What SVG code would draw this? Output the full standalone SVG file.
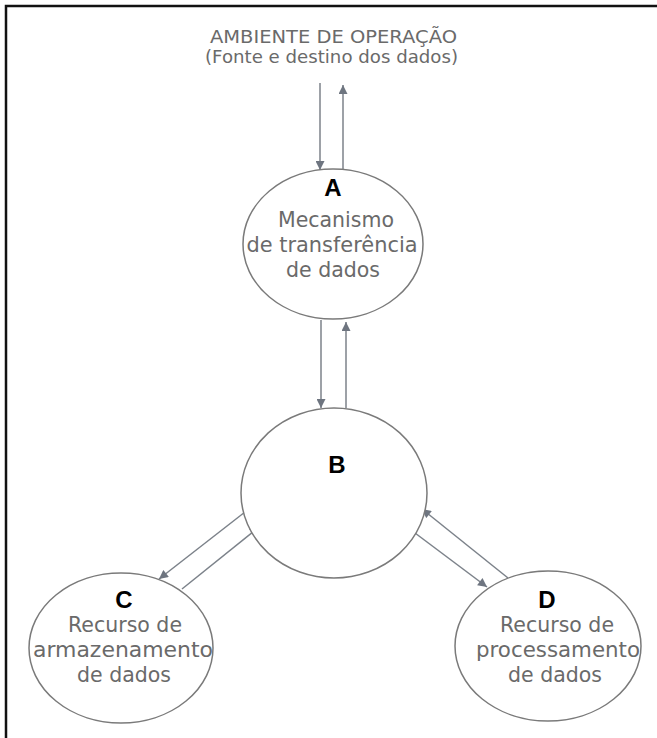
<svg xmlns="http://www.w3.org/2000/svg" width="657" height="738" viewBox="0 0 657 738">
<defs>
<marker id="ah" viewBox="0 0 10 10" refX="10" refY="5" markerWidth="10" markerHeight="9" markerUnits="userSpaceOnUse" orient="auto">
<path d="M0,0 L10,5 L0,10 z" fill="#6e7580"/>
</marker>
<style>
.node{fill:#fff;stroke:#7a7a7a;stroke-width:1.5}
.lbl{font-family:"DejaVu Sans",sans-serif;font-size:20.5px;fill:#6a6a6a;text-anchor:middle}
.ttl{font-family:"DejaVu Sans",sans-serif;font-size:18px;fill:#6a6a6a}
.key{font-family:"Liberation Sans",Arial,sans-serif;font-weight:bold;font-size:24px;fill:#000;text-anchor:middle}
.conn line{stroke:#7c828a;stroke-width:1.5;marker-end:url(#ah)}
</style>
</defs>
<rect width="657" height="738" fill="#fff"/>
<path d="M6,738 L6,6 L657,6" fill="none" stroke="#111" stroke-width="2.5"/>
<g id="ambiente">
<text class="ttl" x="210" y="43" textLength="247" lengthAdjust="spacingAndGlyphs">AMBIENTE DE OPERAÇÃO</text>
<text class="ttl" x="205" y="63" textLength="253" lengthAdjust="spacingAndGlyphs">(Fonte e destino dos dados)</text>
</g>
<g id="connectors" class="conn">
<line x1="320" y1="83" x2="320" y2="170"/>
<line x1="343" y1="170" x2="343" y2="85"/>
<line x1="321" y1="320" x2="321" y2="408"/>
<line x1="346" y1="408" x2="346" y2="322"/>
<line x1="245" y1="512" x2="159" y2="579"/>
<line x1="182" y1="589" x2="259" y2="527"/>
<line x1="508" y1="578" x2="422" y2="509"/>
<line x1="407" y1="527" x2="487" y2="587"/>
</g>
<g id="node-A">
<ellipse class="node" cx="333" cy="244" rx="90" ry="75"/>
<text class="key" x="333" y="196">A</text>
<text class="lbl" x="336" y="227">Mecanismo</text>
<text class="lbl" x="332" y="252" textLength="171" lengthAdjust="spacingAndGlyphs">de transferência</text>
<text class="lbl" x="333" y="277">de dados</text>
</g>
<g id="node-B">
<ellipse class="node" cx="334" cy="493" rx="93" ry="85"/>
<text class="key" x="337" y="473">B</text>
</g>
<g id="node-C">
<ellipse class="node" cx="121" cy="648" rx="92" ry="75"/>
<text class="key" x="124" y="608">C</text>
<text class="lbl" x="125" y="632">Recurso de</text>
<text class="lbl" x="123" y="657" textLength="180" lengthAdjust="spacingAndGlyphs">armazenamento</text>
<text class="lbl" x="124" y="682">de dados</text>
</g>
<g id="node-D">
<ellipse class="node" cx="548" cy="646" rx="93" ry="75"/>
<text class="key" x="547" y="608">D</text>
<text class="lbl" x="557" y="632">Recurso de</text>
<text class="lbl" x="558" y="657" textLength="164" lengthAdjust="spacingAndGlyphs">processamento</text>
<text class="lbl" x="555" y="682">de dados</text>
</g>
</svg>
